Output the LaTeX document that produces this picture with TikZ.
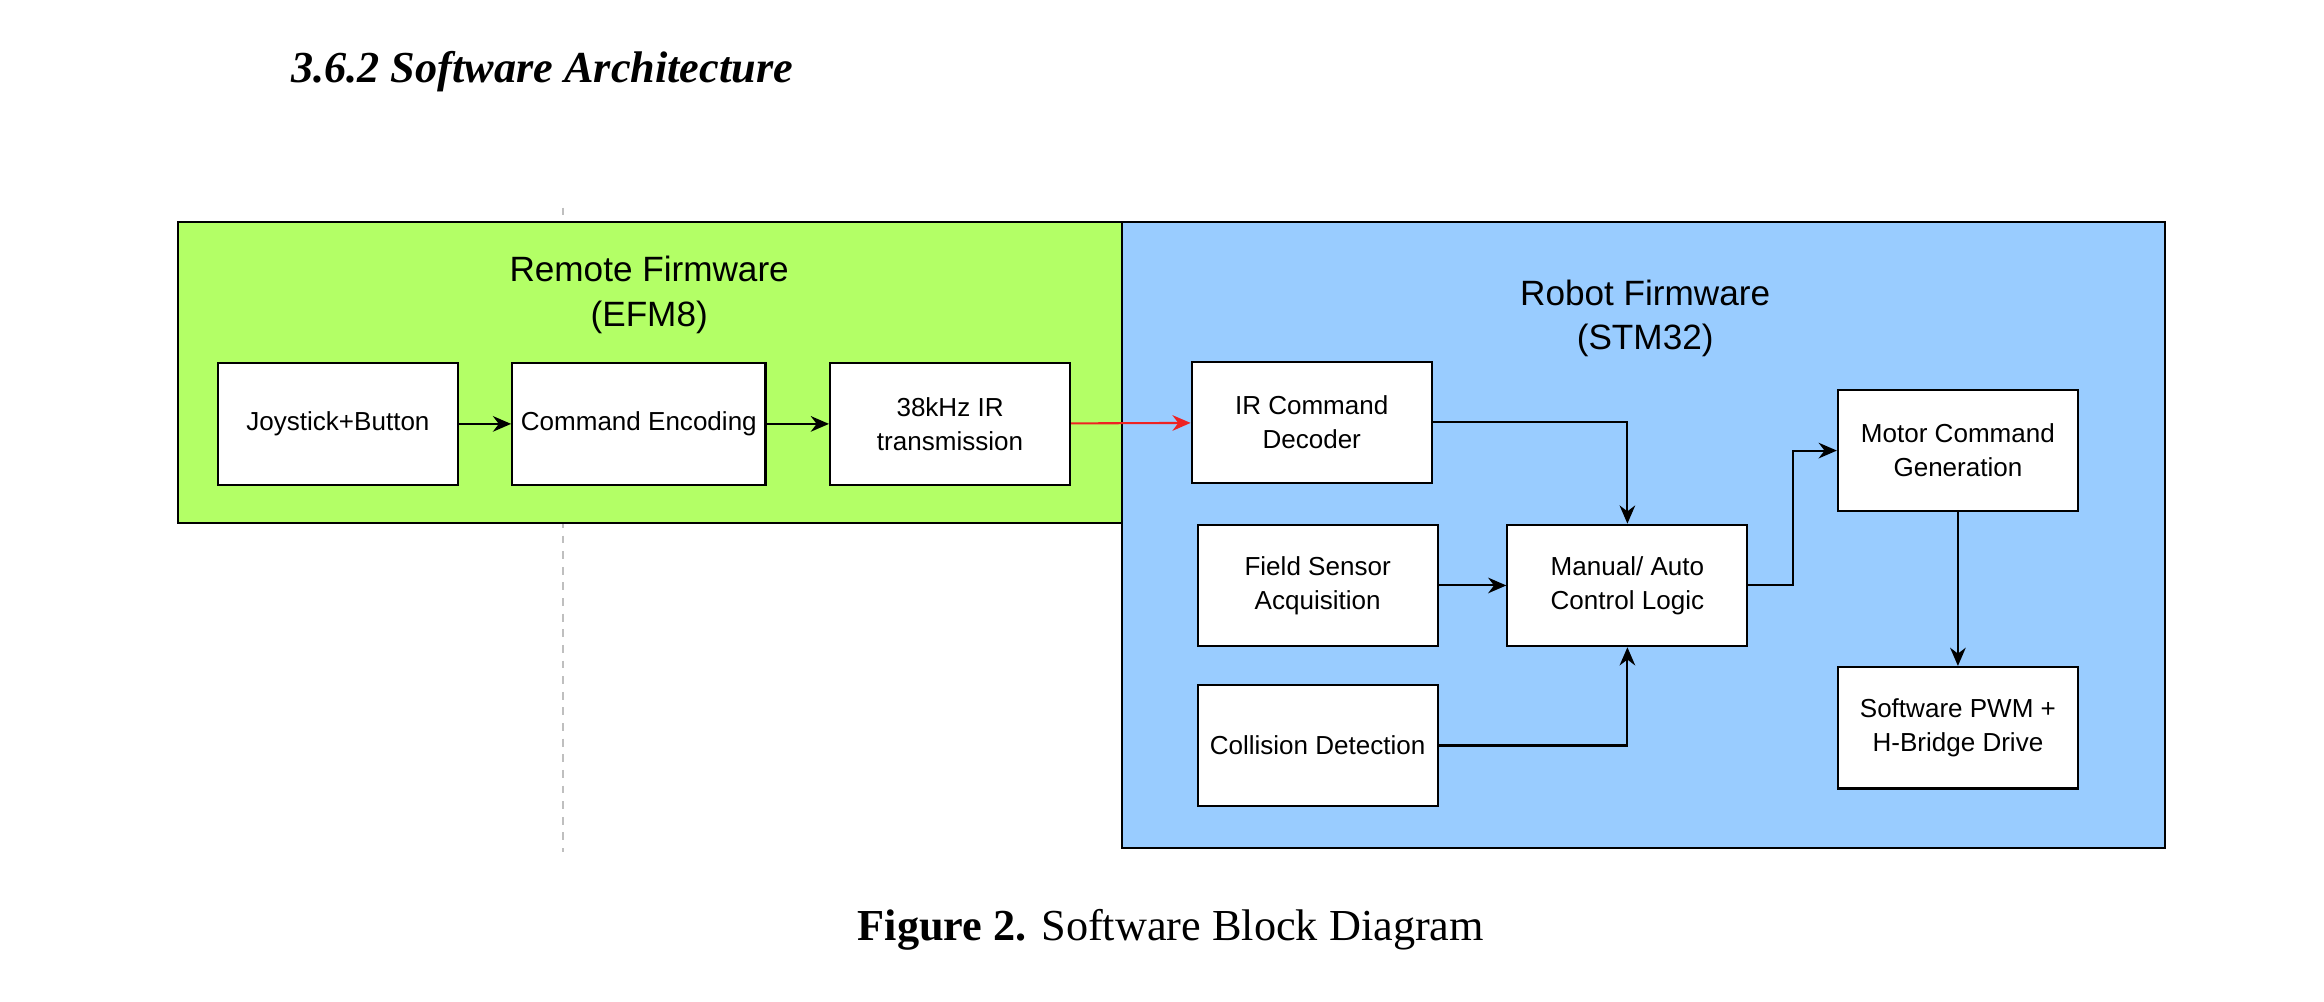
\documentclass[tikz,border=0pt]{standalone}
\usepackage{fontspec}
\setmainfont{Liberation Serif}
\newfontfamily\arialfont{Liberation Sans}
\usetikzlibrary{arrows.meta,positioning}
\definecolor{remotegreen}{HTML}{B3FF66}
\definecolor{robotblue}{HTML}{99CCFF}
\definecolor{ircolor}{HTML}{EE2222}
\begin{document}
\begin{tikzpicture}[x=0.02cm,y=-0.02cm,>={Stealth[length=7pt,width=6pt]},thick,
  block/.style={draw,fill=white,minimum width=3.24cm,minimum height=1.64cm,align=center,font=\arialfont\fontsize{10}{13}\selectfont,line width=0.8pt},
  group/.style={draw,line width=0.8pt},
  grouplabel/.style={align=center,font=\arialfont\fontsize{13.5}{17}\selectfont},
  link/.style={->,line width=0.8pt}]
\useasboundingbox (0,0) rectangle (1568,676);

\node[anchor=west,font=\fontsize{17}{20}\selectfont\bfseries\itshape] (title) at (190,48) {3.6.2 Software Architecture};
\draw[gray!50,dashed] (380,140) -- (380,575);

% groups
\draw[group,fill=robotblue] (757,150) rectangle (1461,572);
\draw[group,fill=remotegreen] (120,150) rectangle (757,353);
\node[grouplabel] (remote) at (438,199) {Remote Firmware\\(EFM8)};
\node[grouplabel] (robot) at (1110,215) {Robot Firmware\\(STM32)};

% blocks
\node[block] (joy) at (228,286) {Joystick+Button};
\node[block] (enc) at (431,286) {Command Encoding};
\node[block] (irtx) at (641,286) {38kHz IR\\transmission};
\node[block] (dec) at (885,285) {IR Command\\Decoder};
\node[block] (field) at (889,395) {Field Sensor\\Acquisition};
\node[block] (coll) at (889,503) {Collision Detection};
\node[block] (logic) at (1098,395) {Manual/ Auto\\Control Logic};
\node[block] (motor) at (1321,304) {Motor Command\\Generation};
\node[block] (pwm) at (1321,491) {Software PWM +\\H-Bridge Drive};

% links
\draw[link] (joy) -- (enc);
\draw[link] (enc) -- (irtx);
\draw[link,ircolor] (irtx) -- (dec);
\draw[link] (dec.east) -| (logic.north);
\draw[link] (field) -- (logic);
\draw[link] (coll.east) -| (logic.south);
\draw[link] (logic.east) -- ++(30,0) |- (motor.west);
\draw[link] (motor) -- (pwm);

\node[font=\fontsize{17}{20}\selectfont] (caption) at (790,627) {\textbf{Figure 2.} Software Block Diagram};
\end{tikzpicture}
\end{document}
